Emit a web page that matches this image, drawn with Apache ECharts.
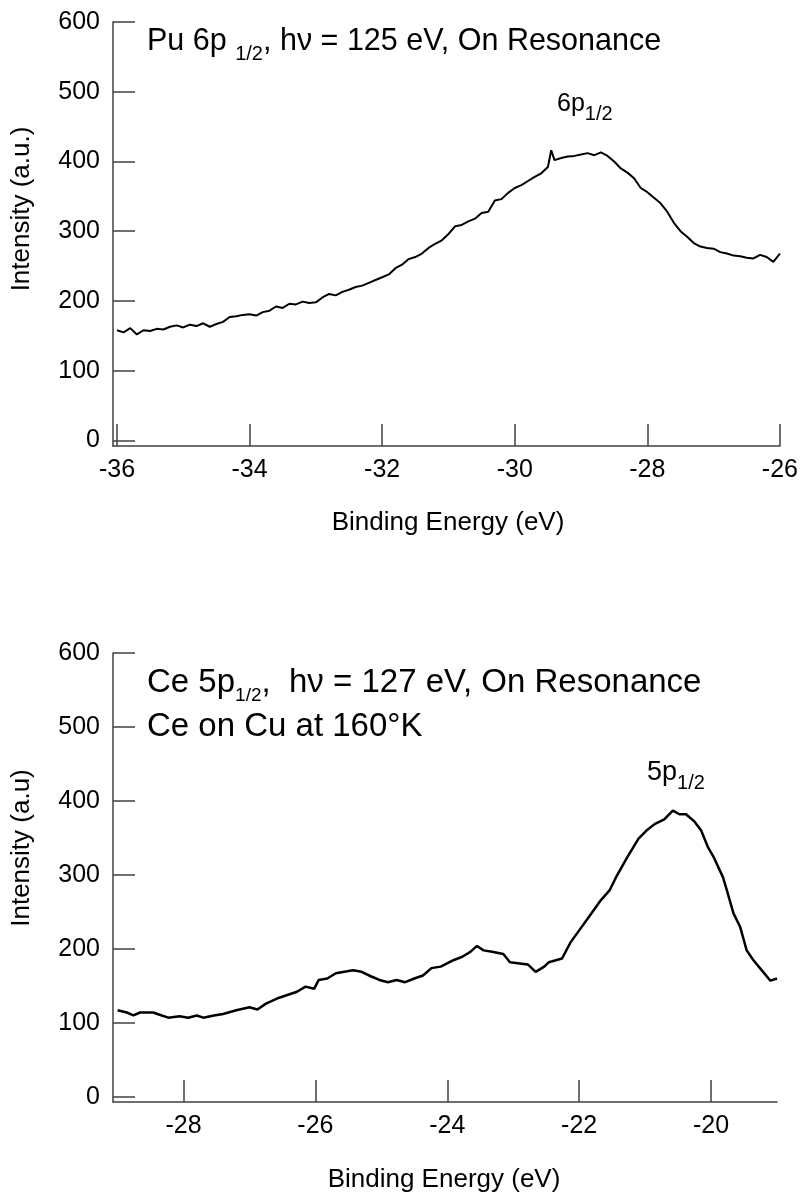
<!DOCTYPE html>
<html><head><meta charset="utf-8">
<script src="https://cdn.jsdelivr.net/npm/echarts@6/dist/echarts.min.js"></script>
<style>html,body{margin:0;padding:0;background:#fff}#c{width:801px;height:1199px}</style>
</head><body><div id="c"></div>
<script>
// Top panel: Pu 6p1/2
const puEnergy = [-36.0,-35.9,-35.8,-35.7,-35.6,-35.5,-35.4,-35.3,-35.2,-35.1,-35.0,-34.9,-34.8,-34.7,-34.6,-34.5,-34.4,-34.3,-34.2,-34.1,-34.0,-33.9,-33.8,-33.7,-33.6,-33.5,-33.4,-33.3,-33.2,-33.1,-33.0,-32.9,-32.8,-32.7,-32.6,-32.5,-32.4,-32.3,-32.2,-32.1,-32.0,-31.9,-31.8,-31.7,-31.6,-31.5,-31.4,-31.3,-31.2,-31.1,-31.0,-30.9,-30.8,-30.7,-30.6,-30.5,-30.4,-30.3,-30.2,-30.1,-30.0,-29.9,-29.8,-29.7,-29.6,-29.5,-29.45,-29.4,-29.3,-29.2,-29.1,-29.0,-28.9,-28.8,-28.7,-28.6,-28.5,-28.4,-28.3,-28.2,-28.1,-28.0,-27.9,-27.8,-27.7,-27.6,-27.5,-27.4,-27.3,-27.2,-27.1,-27.0,-26.9,-26.8,-26.7,-26.6,-26.5,-26.4,-26.3,-26.2,-26.1,-26.0];
const puIntensity = [158,155,161,152,158,157,160,159,163,165,162,166,164,168,163,167,170,177,178,180,181,179,184,186,192,190,196,195,199,197,198,205,210,208,213,216,220,222,226,230,234,238,247,252,260,263,268,276,282,287,296,307,309,314,318,326,328,344,346,355,362,366,372,378,383,392,416,402,405,407,408,410,412,409,413,408,400,390,384,376,362,356,348,340,328,312,300,292,283,278,276,275,270,268,265,264,262,261,266,263,256,268];
// Bottom panel: Ce 5p1/2
const ceEnergy = [-29.0,-28.86,-28.76,-28.66,-28.46,-28.33,-28.23,-28.06,-27.93,-27.8,-27.7,-27.54,-27.4,-27.2,-27.0,-26.88,-26.75,-26.55,-26.28,-26.15,-26.02,-25.95,-25.82,-25.69,-25.43,-25.3,-25.16,-25.03,-24.9,-24.77,-24.64,-24.5,-24.37,-24.24,-24.1,-23.9,-23.78,-23.65,-23.55,-23.45,-23.32,-23.15,-23.05,-22.78,-22.66,-22.53,-22.46,-22.26,-22.13,-22.0,-21.87,-21.67,-21.54,-21.44,-21.27,-21.1,-20.98,-20.85,-20.71,-20.58,-20.48,-20.38,-20.25,-20.15,-20.05,-19.96,-19.82,-19.76,-19.66,-19.56,-19.46,-19.36,-19.23,-19.1,-19.0];
const ceIntensity = [117,114,110,114,114,110,107,109,107,110,107,110,112,117,121,118,126,134,142,149,146,158,160,167,171,169,163,158,155,158,155,160,164,174,176,185,189,196,204,198,196,193,182,179,169,176,182,187,209,225,241,266,279,297,324,349,360,369,375,387,382,382,372,360,338,324,297,279,248,230,198,185,171,157,160];
const yTicks = [0,100,200,300,400,500,600];
const puXTicks = [-36,-34,-32,-30,-28,-26];
const ceXTicks = [-28,-26,-24,-22,-20];

const FONT = "'Liberation Sans', Arial, Helvetica, sans-serif";
const AX = '#404040';

function zip(a, b) { return a.map((v, i) => [v, b[i]]); }

function xAxisCfg(gi, min, max, ticks) {
  return {
    type: 'value', gridIndex: gi, min: min, max: max,
    axisLine: { onZero: false, lineStyle: { color: AX, width: 1.5 } },
    axisTick: { inside: true, length: 22, customValues: ticks, lineStyle: { color: AX, width: 1.5 } },
    axisLabel: { customValues: ticks, margin: 12, fontSize: 25, color: '#000', fontFamily: FONT },
    splitLine: { show: false }
  };
}
function yAxisCfg(gi, min) {
  return {
    type: 'value', gridIndex: gi, min: min, max: 600,
    axisLine: { show: true, onZero: false, lineStyle: { color: AX, width: 1.5 } },
    axisTick: { show: true, inside: true, length: 22, customValues: yTicks, lineStyle: { color: AX, width: 1.5 } },
    axisLabel: { customValues: yTicks, margin: 13, fontSize: 25, color: '#000', fontFamily: FONT },
    splitLine: { show: false }
  };
}
function richText(x, y, parts, mainSize, subSize, lineH) {
  let t = parts.map(p => '{' + p[0] + '|' + p[1] + '}').join('');
  return {
    type: 'text', x: x, y: y, silent: true,
    style: {
      text: t, align: 'left', verticalAlign: 'top', fill: '#000',
      rich: {
        m: { fontSize: mainSize, fontFamily: FONT, lineHeight: lineH, fill: '#000' },
        s: { fontSize: subSize, fontFamily: FONT, lineHeight: subSize, verticalAlign: 'bottom', fill: '#000' }
      }
    }
  };
}
function plainText(x, y, text, size, rot, align) {
  return {
    type: 'text', x: x, y: y, rotation: rot || 0, silent: true,
    style: { text: text, fontSize: size, fontFamily: FONT, fill: '#000', align: align || 'center', verticalAlign: 'middle' }
  };
}

const chart = echarts.init(document.getElementById('c'), null, { renderer: 'canvas' });
chart.setOption({
  animation: false,
  backgroundColor: '#fff',
  grid: [
    { left: 113, right: 21, top: 22, height: 424 },
    { left: 113, right: 24, top: 653, height: 449 }
  ],
  xAxis: [xAxisCfg(0, -36.06, -26, puXTicks), xAxisCfg(1, -29.07, -19, ceXTicks)],
  yAxis: [yAxisCfg(0, -8), yAxisCfg(1, -7)],
  series: [
    { type: 'line', xAxisIndex: 0, yAxisIndex: 0, data: zip(puEnergy, puIntensity), showSymbol: false, symbol: 'none', lineStyle: { color: '#000', width: 2 } },
    { type: 'line', xAxisIndex: 1, yAxisIndex: 1, data: zip(ceEnergy, ceIntensity), showSymbol: false, symbol: 'none', lineStyle: { color: '#000', width: 2.5 } }
  ],
  graphic: [
    richText(147, 20, [['m', 'Pu 6p '], ['s', '1/2'], ['m', ', h\u03bd = 125 eV, On Resonance']], 30.5, 20, 44),
    richText(557, 84, [['m', '6p'], ['s', '1/2']], 25, 20, 40),
    plainText(448, 523, 'Binding Energy (eV)', 26, 0),
    plainText(22, 209, 'Intensity (a.u.)', 26, Math.PI / 2),
    richText(147, 661, [['m', 'Ce 5p'], ['s', '1/2'], ['m', ',  h\u03bd = 127 eV, On Resonance']], 33, 19, 44),
    plainText(147, 727, 'Ce on Cu at 160\u00b0K', 33, 0, 'left'),
    richText(647, 753, [['m', '5p'], ['s', '1/2']], 27, 20, 40),
    plainText(444, 1180, 'Binding Energy (eV)', 26, 0),
    plainText(22, 848, 'Intensity (a.u)', 26, Math.PI / 2)
  ]
});
</script>
</body></html>
